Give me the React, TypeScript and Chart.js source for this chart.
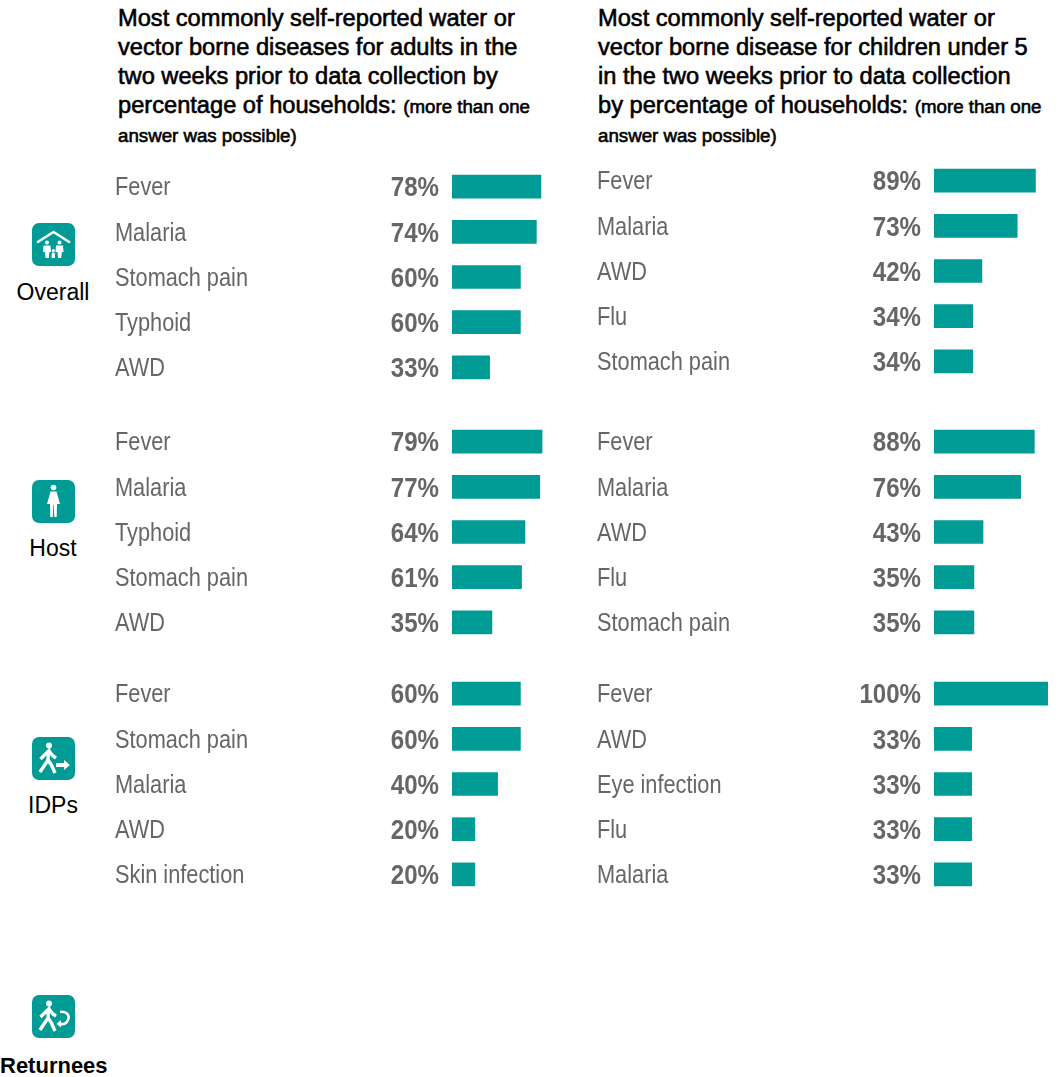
import React, { useEffect, useRef } from "react";
import { Chart, registerables } from "chart.js";

Chart.register(...registerables);

const overallAdultLabels = ["Fever", "Malaria", "Stomach pain", "Typhoid", "AWD"];
const overallAdultValues = [78, 74, 60, 60, 33];
const overallChildLabels = ["Fever", "Malaria", "AWD", "Flu", "Stomach pain"];
const overallChildValues = [89, 73, 42, 34, 34];
const hostAdultLabels = ["Fever", "Malaria", "Typhoid", "Stomach pain", "AWD"];
const hostAdultValues = [79, 77, 64, 61, 35];
const hostChildLabels = ["Fever", "Malaria", "AWD", "Flu", "Stomach pain"];
const hostChildValues = [88, 76, 43, 35, 35];
const idpAdultLabels = ["Fever", "Stomach pain", "Malaria", "AWD", "Skin infection"];
const idpAdultValues = [60, 60, 40, 20, 20];
const idpChildLabels = ["Fever", "AWD", "Eye infection", "Flu", "Malaria"];
const idpChildValues = [100, 33, 33, 33, 33];

const TEAL = "#009b95";
const GREY = "#666666";
const FONT = "'Liberation Sans', Arial, sans-serif";
const CONDENSE = 0.87;

const valueLabels = {
  id: "valueLabels",
  afterDatasetsDraw(chart: any) {
    const { ctx, scales } = chart;
    const meta = chart.getDatasetMeta(0);
    meta.data.forEach((bar: any, i: number) => {
      ctx.save();
      ctx.font = `bold 28px ${FONT}`;
      ctx.fillStyle = GREY;
      ctx.textAlign = "right";
      ctx.textBaseline = "middle";
      ctx.translate(scales.x.left - 13, bar.y + 2);
      ctx.scale(0.86, 1);
      ctx.fillText(`${chart.data.datasets[0].data[i]}%`, 0, 0);
      ctx.restore();
    });
  },
};

function condenseLabels(scale: any) {
  if (scale.__condensed) return;
  scale.__condensed = true;
  const original = scale.drawLabels;
  scale.drawLabels = function (area: any) {
    const ctx = this.ctx;
    ctx.save();
    ctx.translate(this.left, 2);
    ctx.scale(CONDENSE, 1);
    ctx.translate(-this.left, 0);
    original.call(this, area);
    ctx.restore();
  };
}

function Panel({ left, top, labels, values }: { left: number; top: number; labels: string[]; values: number[] }) {
  const ref = useRef<HTMLCanvasElement>(null);
  useEffect(() => {
    const chart = new Chart(ref.current as HTMLCanvasElement, {
      type: "bar",
      data: {
        labels,
        datasets: [{ data: values, backgroundColor: TEAL, barThickness: 23, borderWidth: 0 }],
      },
      options: {
        indexAxis: "y",
        animation: false,
        responsive: false,
        layout: { padding: 0 },
        plugins: { legend: { display: false }, tooltip: { enabled: false } },
        scales: {
          x: { display: false, min: 0, max: 100 },
          y: {
            afterFit(scale: any) {
              scale.width = 337;
              scale.paddingTop = 0;
              scale.paddingBottom = 0;
              condenseLabels(scale);
            },
            grid: { display: false, drawTicks: false },
            border: { display: false },
            ticks: {
              crossAlign: "far",
              padding: 0,
              color: GREY,
              autoSkip: false,
              font: { family: FONT, size: 25 },
            },
          },
        },
      },
      plugins: [valueLabels],
    } as any);
    return () => chart.destroy();
  }, []);
  return (
    <canvas
      ref={ref}
      width={451}
      height={226}
      style={{ position: "absolute", left, top, width: 451, height: 226, display: "block" }}
    />
  );
}

function Icon({ top, kind }: { top: number; kind: "family" | "woman" | "idp" | "returnee" }) {
  const person = (
    <g>
      <circle cx="17" cy="8.5" r="3" fill="#fff" />
      <path
        d="M8.5 22 L16.5 14 L16 23 L8 35 M16 23 L19.5 28 L23 36 M17 14 L21 19 L24 21"
        fill="none"
        stroke="#fff"
        strokeWidth="3.4"
      />
    </g>
  );
  return (
    <svg
      width={43}
      height={43}
      viewBox="0 0 43 43"
      style={{ position: "absolute", left: 32, top, display: "block" }}
    >
      <rect x="0" y="0" width="43" height="43" rx="7" fill={TEAL} />
      {kind === "family" && (
        <g fill="#fff">
          <path d="M5 19.5 L21.5 9 L38 19.5" fill="none" stroke="#fff" strokeWidth="2.4" />
          <circle cx="15" cy="19.5" r="2" />
          <path d="M11.5 22.5 L18.5 22.5 L19 29 L17.4 29 L16.8 35 L13.5 35 L13 29 L11 29 Z" />
          <circle cx="27.5" cy="19.5" r="2" />
          <path d="M24 22.5 L31 22.5 L31.5 29 L29.9 29 L29.2 35 L26 35 L25.5 29 L23.5 29 Z" />
          <circle cx="21.3" cy="27.5" r="1.5" />
          <path d="M19.8 29.5 L22.8 29.5 L23 35 L19.6 35 Z" />
        </g>
      )}
      {kind === "woman" && (
        <g fill="#fff">
          <circle cx="21.5" cy="7.5" r="2.8" />
          <path d="M18.5 11.5 L24.5 11.5 L28 24 L25 24 L24.7 37 L22.2 37 L21.8 25 L21.2 25 L20.8 37 L18.3 37 L18 24 L15 24 Z" />
        </g>
      )}
      {kind === "idp" && (
        <g>
          {person}
          <path d="M24 26 L32 26 L32 23 L38 28 L32 33 L32 30 L24 30 Z" fill="#fff" />
        </g>
      )}
      {kind === "returnee" && (
        <g>
          {person}
          <path d="M28 17 C35 15.5 38 21 36 25 C34.5 28.5 31 29.5 28 29" fill="none" stroke="#fff" strokeWidth="2.6" />
          <path d="M29 25 L24.5 29 L29 32.5 Z" fill="#fff" />
        </g>
      )}
    </svg>
  );
}

function GroupLabel({ top, text, bold }: { top: number; text: string; bold?: boolean }) {
  return (
    <div
      style={{
        position: "absolute",
        left: 0,
        width: 106,
        top,
        textAlign: "center",
        font: `${bold ? "bold 22px" : "23px"}/28px ${FONT}`,
        color: "#000",
        whiteSpace: "nowrap",
      }}
    >
      {text}
    </div>
  );
}

function TitleFull({ left, lines, lead, paren, last }: { left: number; lines: string[]; lead: string; paren: string; last: string }) {
  return (
    <div
      style={{
        position: "absolute",
        left,
        top: 4,
        font: `23.65px/29px ${FONT}`,
        color: "#000",
        WebkitTextStroke: "0.6px #000",
        whiteSpace: "nowrap",
      }}
    >
      {lines.map((l, i) => (
        <div key={i}>{l}</div>
      ))}
      <div>
        {lead} <span style={{ fontSize: 18.7 }}>{paren}</span>
      </div>
      <div style={{ fontSize: 18.7 }}>{last}</div>
    </div>
  );
}

export default function App() {
  return (
    <div
      style={{
        position: "absolute",
        left: 0,
        top: 0,
        width: 1061,
        height: 1077,
        overflow: "hidden",
        background: "#fff",
      }}
    >
      <TitleFull
        left={118}
        lines={[
          "Most commonly self-reported water or",
          "vector borne diseases for adults in the",
          "two weeks prior to data collection by",
        ]}
        lead="percentage of households:"
        paren="(more than one"
        last="answer was possible)"
      />
      <TitleFull
        left={598}
        lines={[
          "Most commonly self-reported water or",
          "vector borne disease for children under 5",
          "in the two weeks prior to data collection",
        ]}
        lead="by percentage of households:"
        paren="(more than one"
        last="answer was possible)"
      />

      <Panel left={115} top={164} labels={overallAdultLabels} values={overallAdultValues} />
      <Panel left={597} top={158} labels={overallChildLabels} values={overallChildValues} />
      <Panel left={115} top={419} labels={hostAdultLabels} values={hostAdultValues} />
      <Panel left={597} top={419} labels={hostChildLabels} values={hostChildValues} />
      <Panel left={115} top={671} labels={idpAdultLabels} values={idpAdultValues} />
      <Panel left={597} top={671} labels={idpChildLabels} values={idpChildValues} />

      <Icon top={223} kind="family" />
      <GroupLabel top={278} text="Overall" />
      <Icon top={480} kind="woman" />
      <GroupLabel top={534} text="Host" />
      <Icon top={737} kind="idp" />
      <GroupLabel top={791} text="IDPs" />
      <Icon top={995} kind="returnee" />
      <GroupLabel top={1052} text="Returnees" bold />
    </div>
  );
}
